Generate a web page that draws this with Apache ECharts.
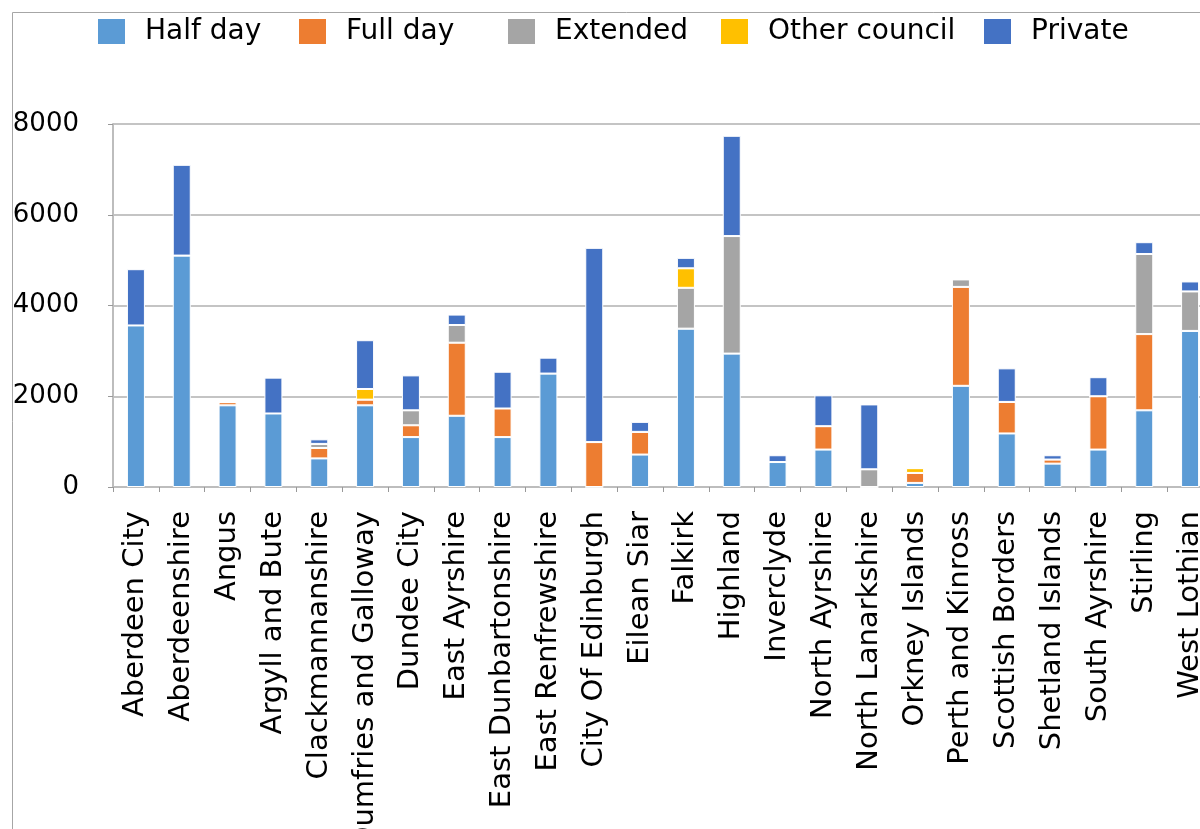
<!DOCTYPE html>
<html>
<head>
<meta charset="utf-8">
<script src="https://cdn.jsdelivr.net/npm/echarts@6/dist/echarts.min.js"></script>
<style>
html,body{margin:0;padding:0;overflow:hidden;background:#fff;width:1200px;height:829px;}
#chart{width:1240px;height:829px;}
</style>
</head>
<body>
<div id="chart"></div>
<script>
const categories = ['Aberdeen City','Aberdeenshire','Angus','Argyll and Bute','Clackmannanshire','Dumfries and Galloway','Dundee City','East Ayrshire','East Dunbartonshire','East Renfrewshire','City Of Edinburgh','Eilean Siar','Falkirk','Highland','Inverclyde','North Ayrshire','North Lanarkshire','Orkney Islands','Perth and Kinross','Scottish Borders','Shetland Islands','South Ayrshire','Stirling','West Lothian'];
const halfDay      = [3560,5100,1800,1620,630,1800,1100,1570,1100,2500,0,715,3490,2940,550,825,0,90,2230,1180,515,825,1690,3440];
const fullDay      = [0,0,70,0,230,125,260,1610,630,0,990,500,0,0,0,515,0,220,2180,695,90,1175,1680,0];
const extended     = [0,0,0,0,90,0,330,390,0,0,0,0,900,2590,0,0,390,0,165,0,0,0,1765,870];
const otherCouncil = [0,0,0,0,0,235,0,0,0,0,0,0,430,0,0,0,0,105,0,0,0,0,0,0];
const privateProv  = [1240,2000,0,790,100,1075,770,230,810,350,4280,220,230,2210,150,680,1430,0,0,740,95,420,260,220];
const yTicks = [0,2000,4000,6000,8000];

const seriesDefs = [
  {name:'Half day', data:halfDay, color:'#5B9BD5'},
  {name:'Full day', data:fullDay, color:'#ED7D31'},
  {name:'Extended', data:extended, color:'#A5A5A5'},
  {name:'Other council', data:otherCouncil, color:'#FFC000'},
  {name:'Private', data:privateProv, color:'#4472C4'}
];
const legendLeft = [96, 297, 506, 719, 982];

const chart = echarts.init(document.getElementById('chart'), null, {renderer:'canvas'});
chart.setOption({
  animation:false,
  color: seriesDefs.map(s=>s.color),
  graphic:[{type:'rect', shape:{x:12.5,y:12.5,width:3000,height:3000}, style:{fill:'none',stroke:'#a6a6a6',lineWidth:1}, silent:true}],
  legend: seriesDefs.map((s,i)=>({
    data:[s.name], left:legendLeft[i], top:17, itemWidth:29, itemHeight:27, padding:0,
    icon:'rect',
    textStyle:{fontFamily:'DejaVu Sans', fontSize:28, color:'#000', padding:[0,0,0,14]}
  })),
  grid:{left:113, right:27, top:124, bottom:342, containLabel:false, outerBoundsMode:'none'},
  xAxis:{
    type:'category', data:categories,
    axisLine:{lineStyle:{color:'#bdbdbd', width:2}},
    axisTick:{show:true, length:5, lineStyle:{color:'#999', width:1}},
    axisLabel:{rotate:90, interval:0, margin:24, fontFamily:'DejaVu Sans', fontSize:29, color:'#000'}
  },
  yAxis:{
    type:'value', min:yTicks[0], max:yTicks[yTicks.length-1], interval:2000,
    axisLine:{show:true, lineStyle:{color:'#bdbdbd', width:2}},
    axisTick:{show:true, length:5, lineStyle:{color:'#999', width:1}},
    splitLine:{lineStyle:{color:'#c4c4c4', width:2}},
    axisLabel:{margin:34, fontFamily:'DejaVu Sans', fontSize:26, color:'#000', formatter:(v)=>String(v)}
  },
  series: seriesDefs.map(s=>({
    name:s.name, type:'bar', stack:'total', data:s.data, barWidth:18,
    itemStyle:{color:s.color, borderColor:'#fff', borderWidth:1}
  }))
});
</script>
</body>
</html>
